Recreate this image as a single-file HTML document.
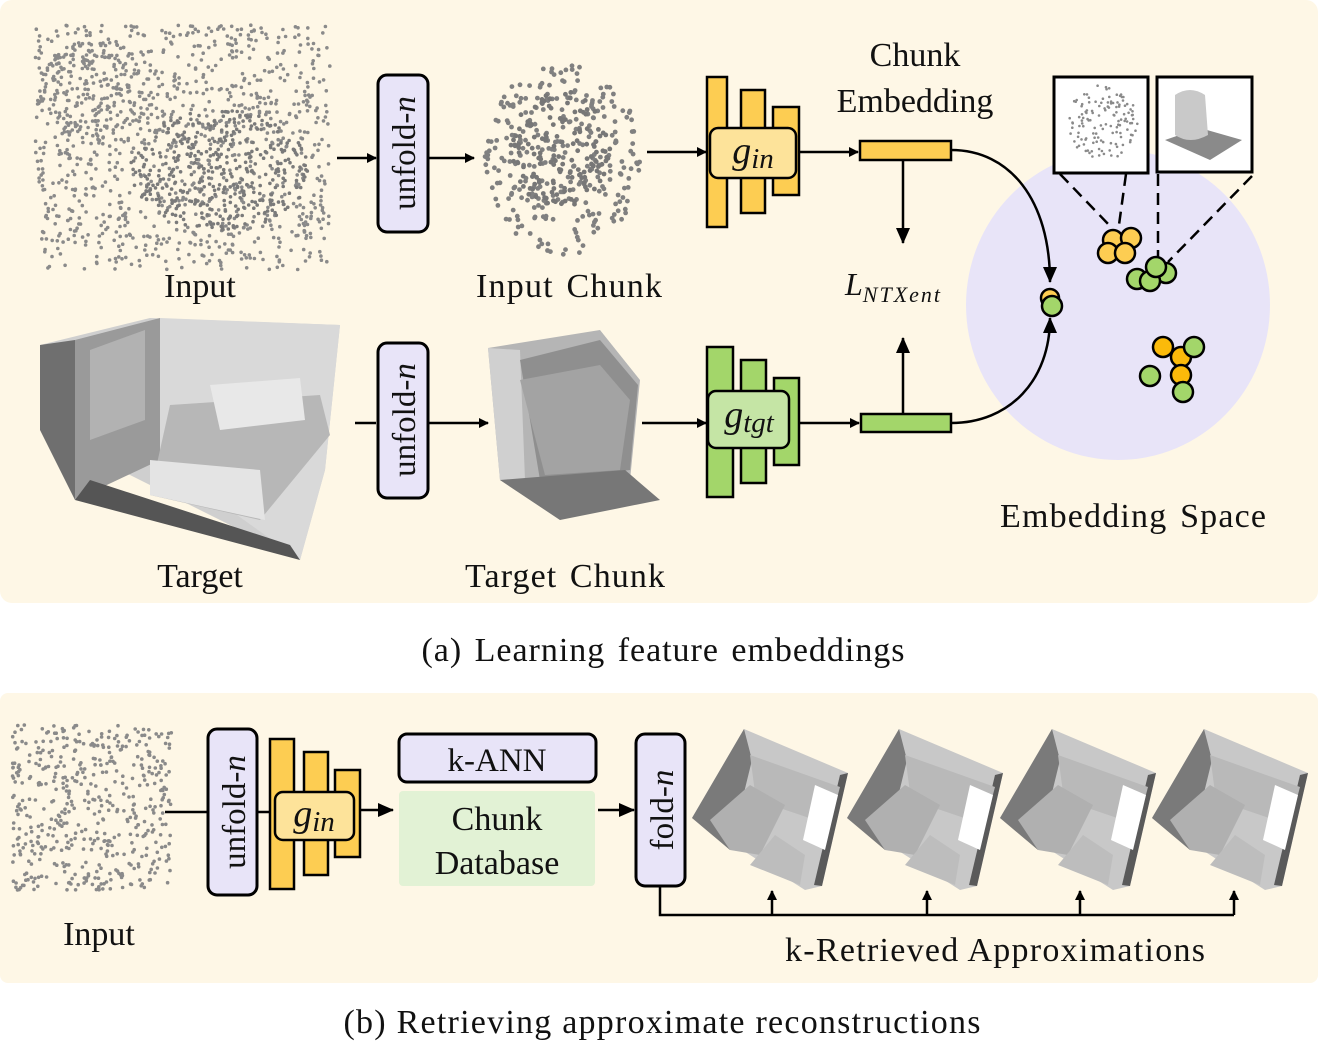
<!DOCTYPE html>
<html><head><meta charset="utf-8">
<style>
html,body{margin:0;padding:0;background:#fff;}
svg{display:block;}
text{font-family:"Liberation Serif",serif;fill:#111;}
</style></head>
<body>
<svg id="s" width="1318" height="1041" viewBox="0 0 1318 1041" xmlns="http://www.w3.org/2000/svg">
<defs>
<marker id="ah" markerWidth="10" markerHeight="10" refX="9" refY="5" orient="auto" markerUnits="userSpaceOnUse">
<path d="M0,0 L10,5 L0,10 z" fill="#000"/></marker>
<marker id="ah2" markerWidth="16" markerHeight="14" refX="15" refY="7" orient="auto" markerUnits="userSpaceOnUse">
<path d="M0,0 L16,7 L0,14 z" fill="#000"/></marker>
<g id="room">
  <polygon points="54,4 158,48 132,161 115,165 2,93" fill="#c8c8c8"/>
  <polygon points="54,4 2,93 40,125 62,35" fill="#7a7a7a"/>
  <polygon points="150,50 158,48 132,161 124,160" fill="#5a5a5a"/>
  <polygon points="60,30 150,62 140,100 66,75" fill="#b9b9b9"/>
  <polygon points="125,60 148,70 135,125 113,115" fill="#ffffff"/>
  <polygon points="20,95 60,60 95,80 70,130 40,125" fill="#b0b0b0"/>
  <polygon points="60,140 85,110 115,130 110,160" fill="#bdbdbd"/>
</g>
</defs>
<rect x="0" y="0" width="1318" height="603" rx="12" fill="#fef7e6"/>
<rect x="0" y="693" width="1318" height="290" rx="8" fill="#fef7e6"/>
<g id="clouds"></g>

<!-- target room -->
<polygon points="40,345 150,318 340,325 325,470 300,560 40,430" fill="#cfcfcf"/>
<polygon points="40,345 75,340 75,500 40,430" fill="#6f6f6f"/>
<polygon points="75,340 160,318 160,460 75,500" fill="#9a9a9a"/>
<polygon points="160,318 340,325 325,470 300,560 160,460" fill="#d9d9d9"/>
<polygon points="90,350 145,330 145,420 90,440" fill="#b2b2b2"/>
<polygon points="75,500 300,560 290,545 90,480" fill="#555"/>
<polygon points="170,405 320,395 330,435 260,520 150,495" fill="#b7b7b7"/>
<polygon points="150,460 260,470 265,520 150,495" fill="#e4e4e4"/>
<polygon points="210,385 300,378 305,420 220,430" fill="#e8e8e8"/>

<!-- target chunk -->
<polygon points="488,348 600,330 640,380 630,480 560,520 500,480" fill="#b5b5b5"/>
<polygon points="488,348 520,350 525,480 500,480" fill="#d0d0d0"/>
<polygon points="520,360 600,340 638,385 630,470 540,480" fill="#8f8f8f"/>
<polygon points="520,380 600,365 630,400 620,470 545,475" fill="#a3a3a3"/>
<polygon points="500,480 625,470 660,500 560,520" fill="#777"/>

<!-- top row -->
<g stroke="#000" stroke-width="2.5" fill="none">
<line x1="337" y1="158" x2="376" y2="158" marker-end="url(#ah)"/>
<line x1="428" y1="158" x2="474" y2="158" marker-end="url(#ah)"/>
<line x1="647" y1="152" x2="706" y2="152" marker-end="url(#ah)"/>
<line x1="797" y1="152" x2="858" y2="152" marker-end="url(#ah)"/>
<line x1="903" y1="160" x2="903" y2="243" marker-end="url(#ah2)"/>
<line x1="355" y1="423" x2="376" y2="423"/>
<line x1="428" y1="423" x2="488" y2="423" marker-end="url(#ah)"/>
<line x1="642" y1="423" x2="706" y2="423" marker-end="url(#ah)"/>
<line x1="797" y1="423" x2="859" y2="423" marker-end="url(#ah)"/>
<line x1="903" y1="414" x2="903" y2="338" marker-end="url(#ah2)"/>
</g>
<rect x="378" y="75" width="50" height="157" rx="9" fill="#e8e4f8" stroke="#000" stroke-width="3"/>
<text transform="translate(415,153) rotate(-90)" font-size="33" text-anchor="middle">unfold-<tspan font-style="italic">n</tspan></text>
<rect x="378" y="343" width="50" height="155" rx="9" fill="#e8e4f8" stroke="#000" stroke-width="3"/>
<text transform="translate(415,420) rotate(-90)" font-size="33" text-anchor="middle">unfold-<tspan font-style="italic">n</tspan></text>

<g fill="#fdcd52" stroke="#000" stroke-width="2.5">
<rect x="707" y="77" width="20" height="150"/><rect x="741" y="90" width="24" height="123"/><rect x="773" y="107" width="26" height="88"/>
</g>
<rect x="710" y="128" width="86" height="50" rx="8" fill="#fde39a" stroke="#000" stroke-width="2.5"/>
<text x="753" y="163" font-size="38" text-anchor="middle" font-style="italic">g<tspan font-size="29" dy="5">in</tspan></text>
<g fill="#a3d66a" stroke="#000" stroke-width="2.5">
<rect x="707" y="347" width="26" height="150"/><rect x="741" y="360" width="25" height="123"/><rect x="774" y="378" width="25" height="87"/>
</g>
<rect x="708" y="391" width="81" height="57" rx="8" fill="#c5e5a5" stroke="#000" stroke-width="2.5"/>
<text x="749" y="427" font-size="38" text-anchor="middle" font-style="italic">g<tspan font-size="29" dy="5">tgt</tspan></text>
<rect x="860" y="141" width="91" height="19" fill="#fdcd52" stroke="#000" stroke-width="2.5"/>
<rect x="861" y="414" width="90" height="18" fill="#a3d66a" stroke="#000" stroke-width="2.5"/>

<ellipse cx="1118" cy="305" rx="152" ry="155" fill="#e8e4f8"/>
<g stroke="#000" stroke-width="2.5" fill="none">
<path d="M951,150 C1010,150 1050,200 1050,282" marker-end="url(#ah2)"/>
<path d="M951,423 C1010,423 1050,380 1050,318" marker-end="url(#ah2)"/>
<g stroke-dasharray="12,7">
<line x1="1060" y1="174" x2="1112" y2="228"/><line x1="1126" y1="174" x2="1118" y2="232"/>
<line x1="1158" y1="174" x2="1158" y2="258"/><line x1="1252" y1="176" x2="1168" y2="262"/>
</g>
</g>
<g stroke="#000" stroke-width="2.5">
<circle cx="1050" cy="298" r="9" fill="#fdcd52"/><circle cx="1052" cy="306" r="10" fill="#a3d66a"/>
<g fill="#fdcd52"><circle cx="1113" cy="240" r="10"/><circle cx="1131" cy="238" r="10"/><circle cx="1108" cy="253" r="10"/><circle cx="1125" cy="253" r="10"/></g>
<g fill="#a3d66a"><circle cx="1166" cy="273" r="10"/><circle cx="1137" cy="279" r="10"/><circle cx="1150" cy="281" r="10"/><circle cx="1156" cy="267" r="10"/></g>
<g fill="#fbba0a"><circle cx="1181" cy="357" r="10"/><circle cx="1163" cy="347" r="10"/><circle cx="1181" cy="375" r="10"/></g>
<g fill="#a3d66a"><circle cx="1194" cy="347" r="10"/><circle cx="1150" cy="376" r="10"/><circle cx="1183" cy="392" r="10"/></g>
</g>
<rect x="1054" y="77" width="94" height="96" fill="#fff" stroke="#000" stroke-width="3"/>
<rect x="1157" y="77" width="95" height="95" fill="#fff" stroke="#000" stroke-width="3"/>
<polygon points="1165,140 1200,128 1242,140 1210,160" fill="#8a8a8a"/>
<path d="M1175,95 Q1190,85 1205,95 L1208,135 Q1190,145 1175,135 z" fill="#c9c9c9"/>
<g id="inset"></g>

<g font-size="34" word-spacing="3">
<text x="915" y="66" text-anchor="middle">Chunk</text>
<text x="915" y="112" text-anchor="middle">Embedding</text>
<text x="200" y="297" text-anchor="middle">Input</text>
<text x="569" y="297" text-anchor="middle" textLength="186">Input Chunk</text>
<text x="200" y="587" text-anchor="middle">Target</text>
<text x="565" y="587" text-anchor="middle" textLength="200">Target Chunk</text>
<text x="1133" y="527" text-anchor="middle" textLength="266">Embedding Space</text>
<text x="663" y="661" text-anchor="middle" textLength="483">(a) Learning feature embeddings</text>
</g>
<text x="845" y="295" font-size="32" font-style="italic">L<tspan font-size="22" dy="7" letter-spacing="2">NTXent</tspan></text>

<!-- bottom -->
<g stroke="#000" stroke-width="2.5" fill="none">
<line x1="165" y1="812" x2="208" y2="812"/>
<line x1="257" y1="812" x2="272" y2="812"/>
<line x1="360" y1="810" x2="393" y2="810" marker-end="url(#ah2)"/>
<line x1="598" y1="810" x2="634" y2="810" marker-end="url(#ah2)"/>
<polyline points="660,886 660,915 1234,915"/>
<line x1="772" y1="915" x2="772" y2="891" marker-end="url(#ah)"/>
<line x1="927" y1="915" x2="927" y2="891" marker-end="url(#ah)"/>
<line x1="1080" y1="915" x2="1080" y2="891" marker-end="url(#ah)"/>
<line x1="1234" y1="915" x2="1234" y2="891" marker-end="url(#ah)"/>
</g>
<rect x="208" y="729" width="49" height="166" rx="9" fill="#e8e4f8" stroke="#000" stroke-width="3"/>
<text transform="translate(245,812) rotate(-90)" font-size="33" text-anchor="middle">unfold-<tspan font-style="italic">n</tspan></text>
<g fill="#fdcd52" stroke="#000" stroke-width="2.5">
<rect x="270" y="739" width="24" height="150"/><rect x="304" y="752" width="24" height="123"/><rect x="335" y="770" width="25" height="87"/>
</g>
<rect x="275" y="792" width="79" height="48" rx="8" fill="#fde39a" stroke="#000" stroke-width="2.5"/>
<text x="314" y="826" font-size="38" text-anchor="middle" font-style="italic">g<tspan font-size="29" dy="5">in</tspan></text>
<rect x="399" y="734" width="197" height="48" rx="8" fill="#e8e4f8" stroke="#000" stroke-width="3"/>
<text x="497" y="771" font-size="33" text-anchor="middle">k-ANN</text>
<rect x="399" y="791" width="196" height="95" rx="4" fill="#e2f2d5"/>
<text x="497" y="830" font-size="34" text-anchor="middle">Chunk</text>
<text x="497" y="874" font-size="34" text-anchor="middle">Database</text>
<rect x="636" y="734" width="49" height="152" rx="9" fill="#e8e4f8" stroke="#000" stroke-width="3"/>
<text transform="translate(673,810) rotate(-90)" font-size="33" text-anchor="middle">fold-<tspan font-style="italic">n</tspan></text>
<use href="#room" x="690" y="725"/>
<use href="#room" x="845" y="725"/>
<use href="#room" x="998" y="725"/>
<use href="#room" x="1150" y="725"/>
<g font-size="34">
<text x="99" y="945" text-anchor="middle">Input</text>
<text x="995" y="961" text-anchor="middle" textLength="420">k-Retrieved Approximations</text>
<text x="662" y="1033" text-anchor="middle" textLength="637">(b) Retrieving approximate reconstructions</text>
</g>
</svg>
<script>
(function(){
var s=12345;function r(){s=(s*1103515245+12345)%2147483648;return s/2147483648;}
var NS="http://www.w3.org/2000/svg";
function cloud(g,x,y,w,h,n,rad,col,ell){
 for(var i=0;i<n;i++){
 var px=x+r()*w,py=y+r()*h;
 if(ell){var dx=(px-x-w/2)/(w/2),dy=(py-y-h/2)/(h/2);if(dx*dx+dy*dy>1){i--;continue;}}
 var c=document.createElementNS(NS,"circle");
 c.setAttribute("cx",px.toFixed(1));c.setAttribute("cy",py.toFixed(1));c.setAttribute("r",rad);c.setAttribute("fill",col);g.appendChild(c);}
}
var g=document.getElementById("clouds");
cloud(g,35,25,295,245,1000,1.8,"#8a8a8a");
cloud(g,130,110,180,120,400,1.8,"#7a7a7a",1);
cloud(g,35,40,120,100,200,1.8,"#8a8a8a",1);
cloud(g,485,60,155,195,300,2.4,"#808080",1);
cloud(g,510,90,100,120,150,2.4,"#777",1);
cloud(g,12,725,160,165,500,1.8,"#8a8a8a");
cloud(document.getElementById("inset"),1068,85,70,75,130,1.3,"#8a8a8a",1);
})();
</script>
</body></html>
